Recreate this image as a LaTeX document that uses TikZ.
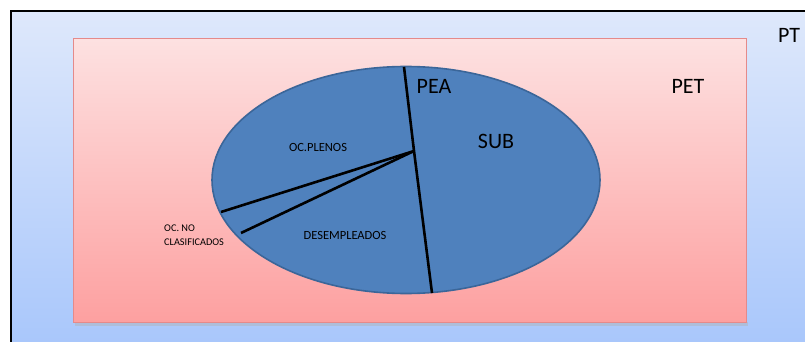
\documentclass[tikz,border=0pt]{standalone}
\usepackage{fontspec}
\setmainfont{Carlito}
\usetikzlibrary{shapes.geometric}
\begin{document}
\begin{tikzpicture}[x=1pt,y=-1pt,
  bigtxt/.style={font=\fontsize{22}{24}\selectfont, inner sep=0pt},
  midtxt/.style={font=\fontsize{12.5}{14}\selectfont, inner sep=0pt},
  smalltxt/.style={font=\fontsize{10.3}{14}\selectfont, inner sep=0pt, align=left},
  divider/.style={line width=2.6pt, black}]
\definecolor{skytop}{HTML}{DEE8FB}
\definecolor{skybot}{HTML}{A9C7FB}
\definecolor{rosetop}{HTML}{FDE1E1}
\definecolor{rosebot}{HTML}{FDA0A0}
\definecolor{roseedge}{HTML}{E58A8A}
\definecolor{pieblue}{HTML}{4F81BD}
\definecolor{pieedge}{HTML}{3B6699}
\useasboundingbox (0,0) rectangle (805,342);
% outer population box
\shade[top color=skytop, bottom color=skybot] (11,11) rectangle (806,343);
\draw[line width=2pt] (11,343) -- (11,11) -- (806,11);
% working-age box with soft shadow
\fill[black!30, opacity=0.45] (75,322) rectangle (748,326);
\shade[top color=rosetop, bottom color=rosebot] (73,39) rectangle (746,322);
\draw[roseedge, line width=1pt] (73,39) rectangle (746,322);
% economically active population
\node[ellipse, draw=pieedge, fill=pieblue, line width=1.6pt, minimum width=388pt, minimum height=227pt, inner sep=0pt] (pea) at (406,180) {};
\coordinate (hub) at (414,151);
\coordinate (top) at (404,67);
\coordinate (bot) at (432,293);
\coordinate (ocn) at (221,212);
\coordinate (des) at (241,233);
\draw[divider] (top) -- (hub) -- (bot);
\draw[divider] (hub) -- (ocn);
\draw[divider] (hub) -- (des);
% labels
\node[bigtxt] (pt) at (789,35) {PT};
\node[bigtxt] (pet) at (688,86) {PET};
\node[bigtxt] (peal) at (434,86) {PEA};
\node[bigtxt] (sub) at (496,141) {SUB};
\node[midtxt] (ocp) at (318,147) {OC.PLENOS};
\node[midtxt] (dsp) at (345,235) {DESEMPLEADOS};
\node[smalltxt, anchor=west] (ocnc) at (164,235) {OC. NO\\CLASIFICADOS};
\end{tikzpicture}
\end{document}
